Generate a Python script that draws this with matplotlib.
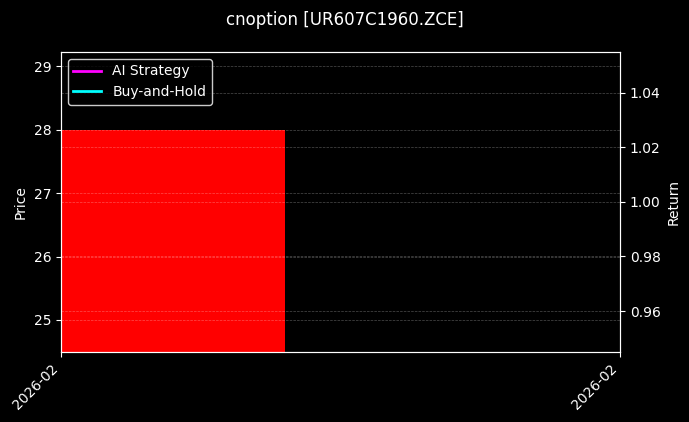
import matplotlib
matplotlib.use("Agg")
import matplotlib.pyplot as plt
import matplotlib.dates as mdates
import datetime as dt

plt.style.use("dark_background")

dates = [dt.datetime(2026, 2, 10)]
prices = [28.0]
ai_returns = [1.0]
bh_returns = [1.0]
title = "cnoption [UR607C1960.ZCE]"

fig, ax = plt.subplots(figsize=(6.89, 4.22), dpi=100)
fig.subplots_adjust(left=0.0885, right=0.9, top=0.877, bottom=0.166)

xnum = mdates.date2num(dates)
ax.bar(xnum, prices, width=0.8, color="red", zorder=1)
ax.set_ylim(24.495, 29.226)
ax.set_xlim(xnum[0], xnum[0] + 1)
ax.set_ylabel("Price")
ax.grid(True, linestyle="--", linewidth=0.5, alpha=0.3)

ax2 = ax.twinx()
ax2.plot(xnum, ai_returns, color="magenta", linewidth=2, label="AI Strategy")
ax2.plot(xnum, bh_returns, color="cyan", linewidth=2, label="Buy-and-Hold")
ax2.set_ylabel("Return")
ax2.grid(True, linestyle="--", linewidth=0.5, alpha=0.3)
ax2.set_xlim(xnum[0], xnum[0] + 1)

ax.set_xticks([xnum[0], xnum[0] + 1])
ax.xaxis.set_major_formatter(mdates.DateFormatter("%Y-%m"))
plt.setp(ax.get_xticklabels(), rotation=45, ha="right")

leg = ax2.legend(loc="upper left", facecolor="black", edgecolor="white")

fig.suptitle(title, fontsize=12, y=0.975)
fig.savefig("out.png", dpi=100, facecolor="black")
